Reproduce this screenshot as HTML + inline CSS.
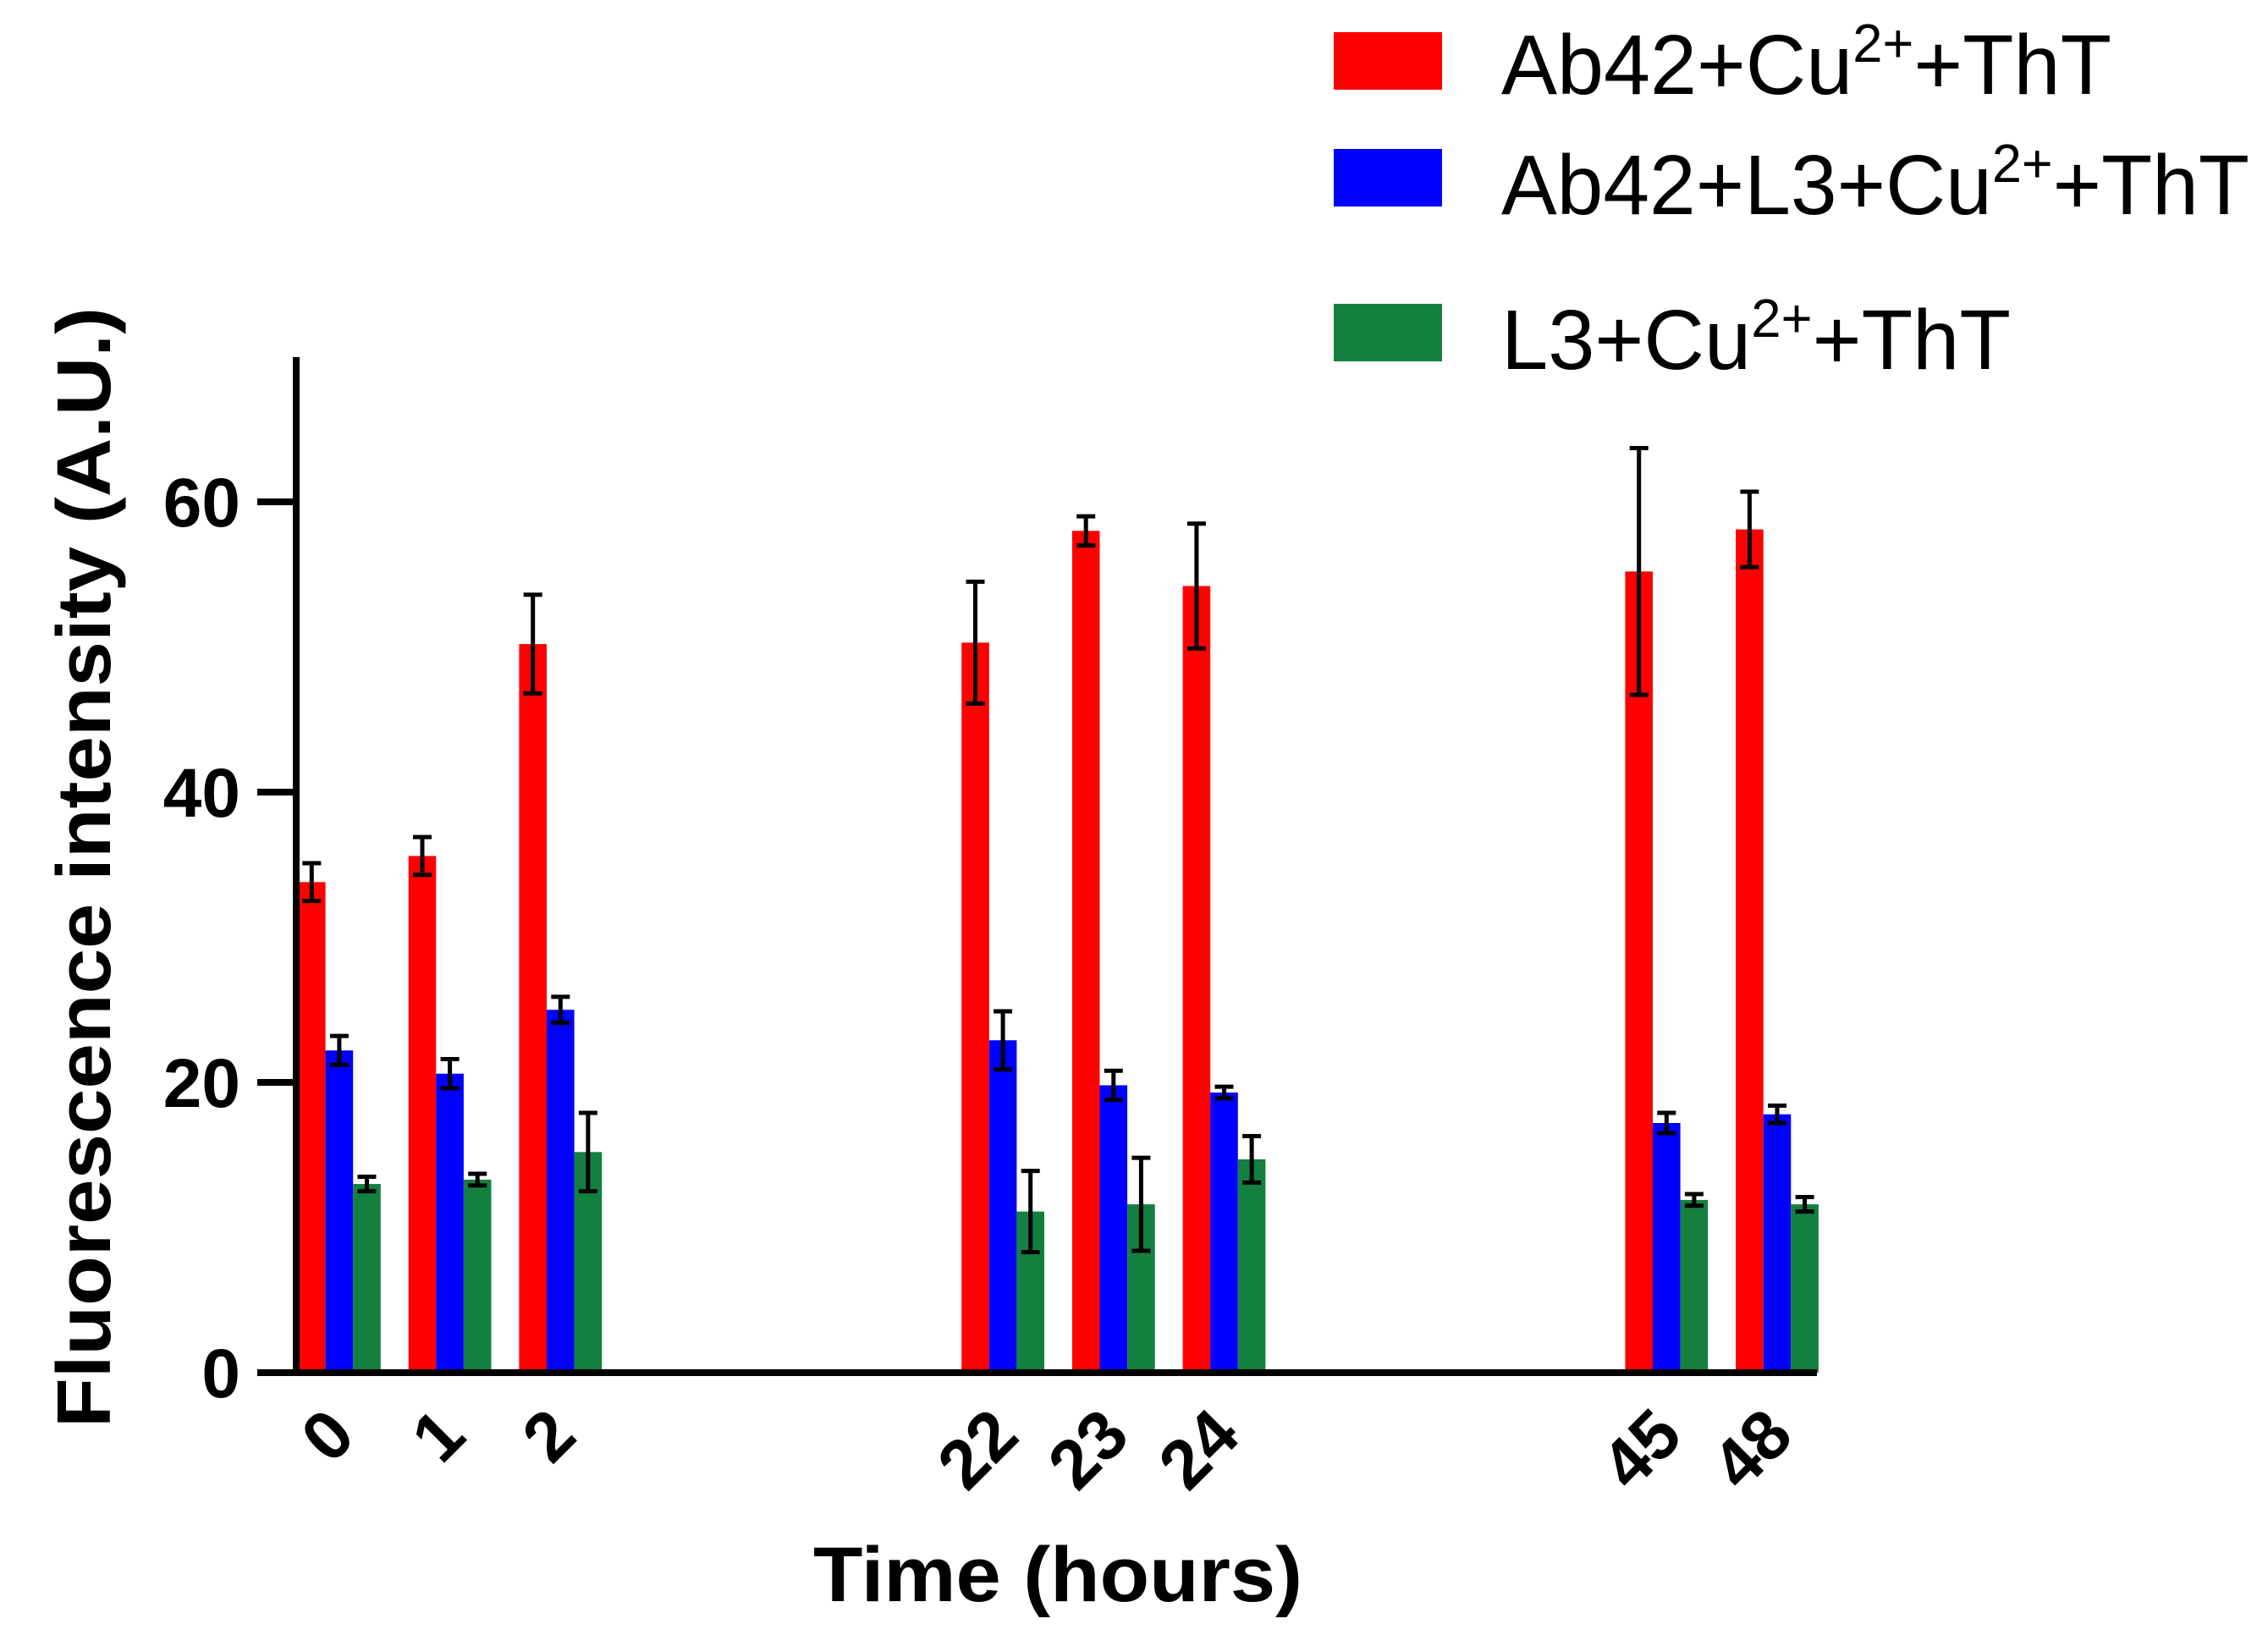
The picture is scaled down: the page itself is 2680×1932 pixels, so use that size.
<!DOCTYPE html>
<html><head><meta charset="utf-8"><style>
html,body{margin:0;padding:0;background:#fff;}
svg{display:block;font-family:"Liberation Sans",Arial,sans-serif;}
</style></head><body>
<svg id="chart" width="2680" height="1932" viewBox="0 0 2680 1932">
<g id="legend">
  <rect x="1576" y="38" width="128" height="68" fill="#ff0000"/>
  <text x="1774" y="111" font-size="100" textLength="721" lengthAdjust="spacingAndGlyphs">Ab42+Cu<tspan dy="-38" font-size="64">2+</tspan><tspan dy="38">+ThT</tspan></text>
  <rect x="1576" y="176" width="128" height="68" fill="#0000ff"/>
  <text x="1774" y="253" font-size="100" textLength="884" lengthAdjust="spacingAndGlyphs">Ab42+L3+Cu<tspan dy="-38" font-size="64">2+</tspan><tspan dy="38">+ThT</tspan></text>
  <rect x="1576" y="359" width="128" height="68" fill="#138040"/>
  <text x="1774" y="436" font-size="100" textLength="602" lengthAdjust="spacingAndGlyphs">L3+Cu<tspan dy="-38" font-size="64">2+</tspan><tspan dy="38">+ThT</tspan></text>
</g>
<g id="plot"></g>
<text transform="translate(130,1025) rotate(-90)" text-anchor="middle" font-size="90" font-weight="bold" textLength="1324" lengthAdjust="spacingAndGlyphs">Fluorescence intensity (A.U.)</text>
<text x="1250" y="1892" text-anchor="middle" font-size="92" font-weight="bold" textLength="578" lengthAdjust="spacingAndGlyphs">Time (hours)</text>
</svg>
<script>
const categories = ["0","1","2","22","23","24","45","48"];
const slots = [0,1,2,6,7,8,12,13];
const seriesNames = ["Ab42+Cu2+ +ThT","Ab42+L3+Cu2+ +ThT","L3+Cu2+ +ThT"];
const redValues = [33.8,35.6,50.2,50.3,58.0,54.2,55.2,58.1];
const redErrors = [1.3,1.3,3.4,4.2,1.0,4.3,8.5,2.6];
const blueValues = [22.2,20.6,25.0,22.9,19.8,19.3,17.2,17.8];
const blueErrors = [1.0,1.0,0.9,2.0,1.0,0.4,0.7,0.6];
const greenValues = [13.0,13.3,15.2,11.1,11.6,14.7,11.9,11.6];
const greenErrors = [0.5,0.4,2.7,2.8,3.2,1.6,0.4,0.5];
const yTicks = [0,20,40,60];

const NS="http://www.w3.org/2000/svg";
const g=document.getElementById('plot');
const y0=1622, pxPer=343/20, axisX=350, slotW=130.7, barW=32.6, firstBar=352;
function yScale(v){return y0-v*pxPer;}
function xScale(slot){return firstBar+slot*slotW;}
function mk(tag,attrs){const e=document.createElementNS(NS,tag);for(const k in attrs)e.setAttribute(k,attrs[k]);g.appendChild(e);return e;}
const colors=["#ff0000","#0000ff","#138040"];
const vals=[redValues,blueValues,greenValues];
const errs=[redErrors,blueErrors,greenErrors];
for(let s=0;s<3;s++){
  for(let i=0;i<categories.length;i++){
    const x=xScale(slots[i])+s*barW, v=vals[s][i], e=errs[s][i];
    const r=mk('rect',{x:x,y:yScale(v),width:barW,height:y0-yScale(v),fill:colors[s]});
    
    
    const cx=x+barW/2;
    const l=mk('path',{d:`M${cx},${yScale(v+e)}V${yScale(v-e)}M${cx-11},${yScale(v+e)}h22M${cx-11},${yScale(v-e)}h22`,stroke:'#000','stroke-width':5,fill:'none'});
    
    
  }
}
const ya=mk('line',{x1:axisX,y1:422,x2:axisX,y2:y0+4,stroke:'#000','stroke-width':8});


const xa=mk('line',{x1:axisX-4,y1:y0,x2:2147,y2:y0,stroke:'#000','stroke-width':8});


yTicks.forEach(t=>{
  const tk=mk('line',{x1:304,y1:yScale(t),x2:axisX,y2:yScale(t),stroke:'#000','stroke-width':8});
  
  
  const tx=mk('text',{x:284,y:yScale(t)+29,'text-anchor':'end','font-size':82,'font-weight':'bold'});
  tx.textContent=t;
  
  
});
categories.forEach((c,i)=>{
  const cx=xScale(slots[i])+1.5*barW;
  const tx=mk('text',{transform:`translate(${cx+22},${y0+78}) rotate(-45)`,'text-anchor':'end','font-size':82,'font-weight':'bold'});
  tx.textContent=c;
  
  
});
</script>
</body></html>
